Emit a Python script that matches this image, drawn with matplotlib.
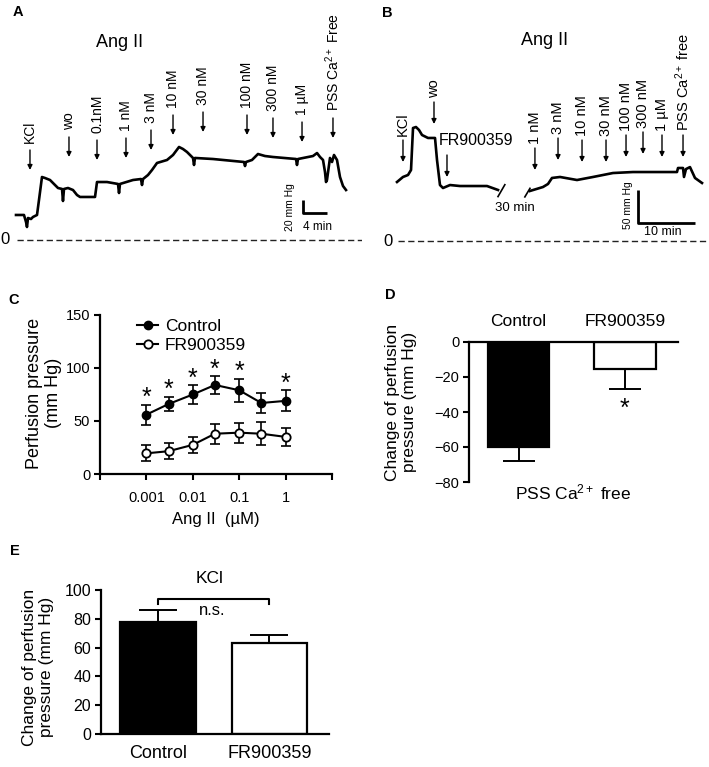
import matplotlib
matplotlib.use('Agg')
import matplotlib.pyplot as plt
import numpy as np

plt.rcParams['font.family'] = ['Liberation Sans', 'DejaVu Sans']
plt.rcParams['mathtext.fontset'] = 'custom'
plt.rcParams['mathtext.rm'] = 'Liberation Sans'
plt.rcParams['mathtext.it'] = 'Liberation Sans:italic'
plt.rcParams['mathtext.bf'] = 'Liberation Sans:bold'

# ---------------- DATA ----------------
# Panel A: perfusion-pressure trace (time in min, pressure in mm Hg)
a_time = [0, 1.33, 1.67, 1.83, 2.0, 2.5, 2.83, 3.5, 3.83, 4.33, 4.83, 5.67, 6.5, 7.0, 7.67, 7.83, 8.0,
          8.67, 9.5, 10.17, 10.67, 13.17, 13.5, 15.17, 17.0, 17.17, 17.33, 19.5, 20.83, 21.0, 21.17,
          22.0, 22.67, 23.5, 25.17, 26.17, 27.17, 27.83, 28.5, 29.5, 29.67, 29.83, 32.83, 38.0, 38.17,
          38.33, 39.33, 40.33, 41.5, 42.83, 46.67, 46.83, 47.0, 49.5, 50.17, 50.67, 51.17, 51.5, 51.67,
          51.83, 52.17, 52.33, 52.67, 53.0, 53.5, 54.0, 54.5, 55.0]
a_pressure = [38.5, 38.5, 27.7, 20, 33.8, 32.3, 35.4, 38.5, 61.5, 96.9, 95.4, 92.3, 84.6, 80, 78.5, 60, 78.5,
              80, 76.9, 69.2, 66.2, 66.2, 89.2, 89.2, 86.2, 72.3, 86.2, 92.3, 93.8, 84.6, 93.8,
              100, 107.7, 118.5, 123.1, 130.8, 143.1, 140, 135.4, 126.2, 115.4, 126.2, 124.6, 120, 113.8,
              120, 123.1, 132.3, 129.2, 127.7, 124.6, 115.4, 124.6, 129.2, 133.8, 127.7, 123.1, 104.6, 89.2,
              92.3, 115.4, 126.2, 120, 130.8, 123.1, 96.9, 83.1, 76.9]
a_events = ['KCl', 'wo', '0.1nM', '1 nM', '3 nM', '10 nM', '30 nM', '100 nM', '300 nM', '1 µM',
            'PSS Ca$^{2+}$ Free']
a_event_time = [2.33, 8.83, 13.5, 18.33, 22.5, 26.17, 31.17, 38.5, 42.83, 47.67, 52.83]
a_event_level = [138.5, 158.5, 153.8, 156.9, 169.2, 192.3, 196.9, 192.3, 187.7, 181.5, 187.7]

# Panel B: trace before and after the 30-min break
b_time1 = [0, 1.05, 1.93, 2.46, 2.81, 3.33, 3.86, 4.39, 5.44, 6.67, 7.02, 7.54, 8.07, 9.30, 11.05,
           13.33, 15.79, 17.72]
b_pressure1 = [89.4, 97, 100, 107.6, 171.2, 172.7, 168.2, 160.6, 156.1, 156.1, 122.7, 84.8, 80.3, 84.8,
               83.3, 83.3, 83.3, 77.3]
b_time2 = [23.33, 25.61, 26.49, 27.19, 28.6, 31.58, 34.39, 37.89, 41.4, 46.67, 49.12, 49.3, 50.18,
           50.35, 50.7, 51.4, 52.28, 53.51]
b_pressure2 = [75.8, 81.8, 86.4, 95.5, 97, 92.4, 97, 103, 104.5, 104.5, 104.5, 110.6, 110.6,
               97, 109, 112, 95.5, 87.9]
b_events = ['KCl', 'wo', '1 nM', '3 nM', '10 nM', '30 nM', '100 nM', '300 nM', '1 µM',
            'PSS Ca$^{2+}$ free']
b_event_time = [1.05, 6.49, 24.2, 28.25, 32.46, 36.67, 40.18, 43.16, 46.49, 50.18]
b_event_level = [153, 210.6, 140.9, 156, 153, 153, 160.6, 165.2, 160.6, 160.6]
b_fr_time = 8.77
b_fr_level = 130.3

# Panel C: concentration-response
c_conc = [0.001, 0.003, 0.01, 0.03, 0.1, 0.3, 1]
c_ctrl = [56, 66, 75, 84, 79, 67, 69]
c_ctrl_sem = [9.5, 7, 8.5, 8.5, 11, 9, 10]
c_fr = [19.5, 21.5, 27.5, 38, 39, 38, 35]
c_fr_sem = [7.5, 7.5, 7.5, 9.5, 9.5, 11, 8.5]
c_sig = [True, True, True, True, True, False, True]
c_yticks = [0, 50, 100, 150]
c_xticks = [0.001, 0.01, 0.1, 1]
c_xticklabels = ['0.001', '0.01', '0.1', '1']

# Panel D: PSS Ca2+ free
d_groups = ['Control', 'FR900359']
d_mean = [-60, -15.5]
d_sem = [8, 11.5]
d_yticks = [0, -20, -40, -60, -80]

# Panel E: KCl
e_groups = ['Control', 'FR900359']
e_mean = [78, 63]
e_sem = [8, 6]
e_yticks = [0, 20, 40, 60, 80, 100]

# ---------------- FIGURE ----------------
W, H = 709, 767
fig = plt.figure(figsize=(W / 100, H / 100), dpi=100)


def px_axes(l, t, r, b):
    return fig.add_axes([l / W, 1 - b / H, (r - l) / W, (b - t) / H])


def ftext(x, y, s, **kw):
    fig.text(x / W, 1 - y / H, s, **kw)


def arrow(ax, t, top, length, offset, label, fs):
    ax.annotate('', xy=(t, top - length), xytext=(t, top),
                arrowprops=dict(arrowstyle='-|>', color='black', lw=1.0,
                                mutation_scale=7, shrinkA=0, shrinkB=0))
    if label is not None:
        ax.annotate(label, xy=(t, top), xytext=(0, offset), textcoords='offset points',
                    rotation=90, ha='center', va='bottom', fontsize=fs)


# ---- Panel A ----
A_X0, A_PPM, A_Y0, A_PPH = 16, 6.0, 240, 0.65
axA = px_axes(0, 0, 362, 255)
axA.set_xlim((0 - A_X0) / A_PPM, (362 - A_X0) / A_PPM)
axA.set_ylim((A_Y0 - 255) / A_PPH, A_Y0 / A_PPH)
axA.axis('off')
axA.plot(a_time, a_pressure, color='black', lw=1.9, solid_joinstyle='round')
for lab, t, lev in zip(a_events, a_event_time, a_event_level):
    arrow(axA, t, lev, 20 / A_PPH, 5, lab, 10)
axA.plot([(17 - A_X0) / A_PPM, (362 - A_X0) / A_PPM], [0, 0], color='#222222', lw=1.0,
         dashes=(4.5, 2.5))
axA.text((5 - A_X0) / A_PPM, 0, '0', ha='center', va='center', fontsize=12)
axA.text(17.33, 304.6, 'Ang II', ha='center', va='center', fontsize=13)
# scale bar 20 mm Hg / 4 min
sbx, sby = 47.83, 41.5
axA.plot([sbx, sbx, sbx + 4], [sby + 20, sby, sby], color='black', lw=2.0, solid_capstyle='butt')
axA.text(sbx - 2.2, sby + 9, '20 mm Hg', rotation=90, ha='center', va='center', fontsize=7.5)
axA.text(sbx + 2.5, sby - 21, '4 min', ha='center', va='center', fontsize=8.5)

# ---- Panel B ----
B_X0, B_PPM, B_Y0, B_PPH = 397, 5.7, 241, 0.66
axB = px_axes(375, 0, 709, 255)
axB.set_xlim((375 - B_X0) / B_PPM, (709 - B_X0) / B_PPM)
axB.set_ylim((B_Y0 - 255) / B_PPH, B_Y0 / B_PPH)
axB.axis('off')
axB.plot(b_time1, b_pressure1, color='black', lw=1.9, solid_joinstyle='round')
axB.plot(b_time2, b_pressure2, color='black', lw=1.9, solid_joinstyle='round')
# break marks
axB.plot([b_time1[-1], b_time1[-1] + 1.2], [b_pressure1[-1] - 10, b_pressure1[-1] + 8], color='black', lw=1.2)
axB.plot([b_time2[0] - 0.9, b_time2[0]], [b_pressure2[0] - 9, b_pressure2[0] + 4], color='black', lw=1.2)
axB.text(20.7, 50, '30 min', ha='center', va='center', fontsize=9.5)
for lab, t, lev in zip(b_events, b_event_time, b_event_level):
    arrow(axB, t, lev, 22 / B_PPH, 3, lab, 10.5)
arrow(axB, b_fr_time, b_fr_level, 22 / B_PPH, 0, None, 10)
axB.text(7.4, 153, 'FR900359', ha='left', va='center', fontsize=11.5)
axB.plot([(398 - B_X0) / B_PPM, (709 - B_X0) / B_PPM], [0, 0], color='#222222', lw=1.0,
         dashes=(4.5, 2.5))
axB.text((388 - B_X0) / B_PPM, 0, '0', ha='center', va='center', fontsize=12)
axB.text(25.96, 304.5, 'Ang II', ha='center', va='center', fontsize=13)
sbx, sby = 42.28, 27.3
axB.plot([sbx, sbx, sbx + 10], [sby + 50, sby, sby], color='black', lw=2.0, solid_capstyle='butt')
axB.text(sbx - 1.75, sby + 27, '50 mm Hg', rotation=90, ha='center', va='center', fontsize=7.5)
axB.text(sbx + 4.4, sby - 13.5, '10 min', ha='center', va='center', fontsize=9)

# ---- Panel C ----
axC = px_axes(100, 315, 332, 474)
axC.set_xscale('log')
axC.set_xlim(1e-4, 10)
axC.set_ylim(0, 150)
axC.errorbar(c_conc, c_ctrl, yerr=c_ctrl_sem, fmt='none', ecolor='black', elinewidth=1.2,
             capsize=3.5, capthick=1.2)
axC.errorbar(c_conc, c_fr, yerr=c_fr_sem, fmt='none', ecolor='black', elinewidth=1.2,
             capsize=3.5, capthick=1.2)
axC.plot(c_conc, c_ctrl, '-o', color='black', lw=1.5, ms=6, mfc='black', mec='black', label='Control')
axC.plot(c_conc, c_fr, '-o', color='black', lw=1.5, ms=6, mfc='white', mec='black', mew=1.3,
         label='FR900359', zorder=3)
for x, m, s, sig in zip(c_conc, c_ctrl, c_ctrl_sem, c_sig):
    if sig:
        axC.annotate('*', xy=(x, m + s), xytext=(0, -4), textcoords='offset points',
                     ha='center', va='bottom', fontsize=18)
for sp in ['top', 'right']:
    axC.spines[sp].set_visible(False)
for sp in ['left', 'bottom']:
    axC.spines[sp].set_linewidth(1.6)
axC.set_yticks(c_yticks)
axC.set_xticks([1e-4] + c_xticks + [10])
axC.set_xticklabels([''] + c_xticklabels + [''])
axC.xaxis.set_minor_locator(matplotlib.ticker.NullLocator())
axC.tick_params(axis='both', length=4, width=1.5, labelsize=10.5, pad=3)
axC.tick_params(axis='x', pad=8)
axC.legend(loc='upper left', bbox_to_anchor=(0.16, 0.975), frameon=False, fontsize=12.5,
           handlelength=1.2, handletextpad=0.4, labelspacing=0.2, borderpad=0, borderaxespad=0)
axC.set_xlabel('Ang II  (µM)', fontsize=12, labelpad=5)
ftext(44, 393, 'Perfusion pressure\n(mm Hg)', rotation=90, ha='center', va='center', fontsize=13,
      linespacing=1.1)

# ---- Panel D ----
axD = px_axes(469, 342, 678, 482)
xd = np.arange(len(d_groups))
axD.bar(xd, d_mean, width=0.575, color=['black', 'white'], edgecolor='black', linewidth=1.6)
axD.errorbar(xd, d_mean, yerr=[d_sem, [0, 0]], fmt='none', ecolor='black', elinewidth=1.4,
             capsize=11.5, capthick=1.4)
axD.set_xlim(-0.465, 1.498)
axD.set_ylim(-80, 0)
axD.spines['right'].set_visible(False)
axD.spines['bottom'].set_visible(False)
axD.spines['left'].set_linewidth(1.6)
axD.spines['top'].set_linewidth(1.6)
axD.xaxis.tick_top()
axD.set_xticks(xd)
axD.set_xticklabels(d_groups)
axD.tick_params(axis='x', length=0, pad=9, labelsize=12.5)
axD.set_yticks(d_yticks)
axD.tick_params(axis='y', length=4, width=1.5, labelsize=10.5, pad=3)
axD.annotate('*', xy=(1, d_mean[1] - d_sem[1]), xytext=(0, -23), textcoords='offset points',
             ha='center', va='bottom', fontsize=18)
axD.text(0.5, 0, 'PSS Ca$^{2+}$ free', transform=axD.transAxes, ha='center', va='top',
         fontsize=12.5)
ftext(401, 402, 'Change of perfusion\npressure (mm Hg)', rotation=90, ha='center', va='center',
      fontsize=12.5, linespacing=1.1)

# ---- Panel E ----
axE = px_axes(101, 590, 329, 734)
xe = np.arange(len(e_groups))
axE.bar(xe, e_mean, width=0.68, color=['black', 'white'], edgecolor='black', linewidth=1.6)
axE.errorbar(xe, e_mean, yerr=[[0, 0], e_sem], fmt='none', ecolor='black', elinewidth=1.4,
             capsize=13.5, capthick=1.4)
axE.set_xlim(-0.511, 1.534)
axE.set_ylim(0, 100)
for sp in ['top', 'right']:
    axE.spines[sp].set_visible(False)
for sp in ['left', 'bottom']:
    axE.spines[sp].set_linewidth(1.6)
axE.set_xticks(xe)
axE.set_xticklabels(e_groups)
axE.tick_params(axis='x', length=0, pad=8, labelsize=13)
axE.set_yticks(e_yticks)
axE.tick_params(axis='y', length=4, width=1.5, labelsize=11.5, pad=3)
axE.plot([0, 0, 1, 1], [90, 93.7, 93.7, 90], color='black', lw=1.5, clip_on=False)
axE.text(0.484, 86, 'n.s.', ha='center', va='center', fontsize=12)
axE.text(0.46, 108, 'KCl', ha='center', va='center', fontsize=12.5, clip_on=False)
ftext(38, 667, 'Change of perfusion\npressure (mm Hg)', rotation=90, ha='center', va='center',
      fontsize=12.5, linespacing=1.1)

# ---- Panel letters ----
for lab, x, y in [('A', 18, 12), ('B', 387, 13), ('C', 14, 300), ('D', 390, 295), ('E', 15, 551)]:
    ftext(x, y, lab, ha='center', va='center', fontsize=10.5, fontweight='bold')

fig.savefig('out.png', dpi=100)
